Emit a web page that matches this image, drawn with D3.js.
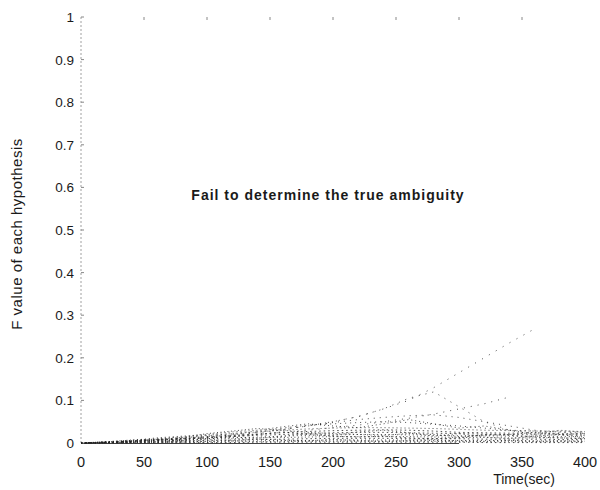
<!DOCTYPE html>
<html>
<head>
<meta charset="utf-8">
<script src="https://cdn.jsdelivr.net/npm/d3@7"></script>
<style>
  html, body { margin: 0; padding: 0; background: #fff; }
  svg { display: block; }
  text { font-family: "Liberation Sans", Arial, sans-serif; fill: #1a1a1a; }
</style>
</head>
<body>
<svg id="chart" width="600" height="490"></svg>
<script>
// Sample times (sec) shared by every hypothesis
const times = [0, 20, 40, 60, 80, 100, 120, 140, 160, 180, 200, 220, 240, 260, 280, 300, 320, 340, 360, 380, 400];

// F value of each ambiguity hypothesis at the sample times (null = hypothesis dropped)
const hypA = [0, 0.002, 0.004, 0.007, 0.011, 0.015, 0.02, 0.026, 0.033, 0.041, 0.05, 0.062, 0.08, 0.1, 0.13, 0.165, 0.2, 0.235, 0.268, null, null];
const hypB = [0, 0.002, 0.004, 0.006, 0.009, 0.013, 0.018, 0.024, 0.031, 0.04, 0.05, 0.062, 0.08, 0.105, 0.12, 0.085, 0.05, 0.03, 0.022, 0.02, 0.018];
const hypC = [0, 0.001, 0.003, 0.005, 0.008, 0.011, 0.015, 0.02, 0.025, 0.03, 0.036, 0.042, 0.05, 0.058, 0.068, 0.08, 0.092, 0.108, null, null, null];
const hypD = [0, 0.002, 0.004, 0.007, 0.01, 0.014, 0.019, 0.025, 0.032, 0.04, 0.048, 0.055, 0.06, 0.064, 0.066, 0.06, 0.05, 0.04, 0.03, 0.025, 0.022];
const hypE = [0, 0.002, 0.005, 0.008, 0.012, 0.017, 0.022, 0.028, 0.035, 0.042, 0.045, 0.048, 0.05, 0.048, 0.044, 0.04, 0.035, 0.03, 0.028, 0.026, 0.025];
const hypF = [0, 0.003, 0.006, 0.01, 0.014, 0.018, 0.022, 0.026, 0.03, 0.033, 0.035, 0.036, 0.036, 0.035, 0.034, 0.032, 0.03, 0.029, 0.028, 0.028, 0.027];
const hypG = [0, 0.002, 0.005, 0.008, 0.011, 0.015, 0.018, 0.021, 0.024, 0.027, 0.029, 0.03, 0.031, 0.03, 0.028, 0.025, 0.024, 0.023, 0.024, 0.022, 0.021];
const hypH = [0, 0.002, 0.004, 0.006, 0.009, 0.012, 0.015, 0.018, 0.02, 0.022, 0.024, 0.025, 0.025, 0.024, 0.023, 0.022, 0.021, 0.02, 0.019, 0.019, 0.018];
const hypI = [0, 0.001, 0.003, 0.005, 0.007, 0.01, 0.012, 0.014, 0.016, 0.018, 0.019, 0.02, 0.02, 0.019, 0.018, 0.017, 0.017, 0.016, 0.016, 0.015, 0.015];
const hypJ = [0, 0.001, 0.002, 0.004, 0.006, 0.008, 0.01, 0.012, 0.013, 0.014, 0.015, 0.015, 0.015, 0.015, 0.014, 0.013, 0.013, 0.012, 0.012, 0.012, 0.011];
const hypK = [0, 0.001, 0.002, 0.003, 0.004, 0.006, 0.007, 0.008, 0.009, 0.01, 0.011, 0.011, 0.011, 0.01, 0.01, 0.01, 0.009, 0.009, 0.009, 0.008, 0.008];
const hypL = [0, 0.001, 0.001, 0.002, 0.003, 0.004, 0.005, 0.005, 0.006, 0.006, 0.007, 0.007, 0.007, 0.007, 0.006, 0.006, 0.006, 0.006, 0.005, 0.005, 0.005];
const hypM = [0, 0, 0.001, 0.001, 0.002, 0.002, 0.003, 0.003, 0.003, 0.004, 0.004, 0.004, 0.004, 0.004, 0.004, 0.003, 0.003, 0.003, 0.003, 0.003, 0.003];
const hypN = [0, 0, 0, 0.001, 0.001, 0.001, 0.001, 0.002, 0.002, 0.002, 0.002, 0.002, 0.002, 0.002, 0.002, 0.002, 0.001, 0.001, 0.001, 0.001, 0.001];
const hypO = [0, 0.002, 0.006, 0.012, 0.016, 0.02, 0.026, 0.03, 0.038, 0.045, 0.04, 0.036, 0.045, 0.055, 0.045, 0.035, 0.04, 0.03, 0.02, 0.03, 0.025];
const hypP = [0, 0.003, 0.007, 0.009, 0.013, 0.022, 0.028, 0.034, 0.03, 0.025, 0.022, 0.02, 0.018, 0.022, 0.02, 0.015, 0.018, 0.02, 0.025, 0.02, 0.022];
const hypQ = [0, 0.001, 0.003, 0.006, 0.01, 0.012, 0.016, 0.02, 0.026, 0.02, 0.016, 0.014, 0.016, 0.012, 0.01, 0.012, 0.02, 0.018, 0.014, 0.012, 0.01];
const hypR = [0, 0.002, 0.004, 0.008, 0.006, 0.01, 0.014, 0.011, 0.016, 0.022, 0.018, 0.026, 0.03, 0.024, 0.016, 0.022, 0.014, 0.01, 0.016, 0.02, 0.012];
const hypS = [0, 0.001, 0.002, 0.003, 0.005, 0.004, 0.006, 0.009, 0.007, 0.005, 0.008, 0.006, 0.004, 0.006, 0.008, 0.005, 0.004, 0.006, 0.004, 0.005, 0.004];

const hypotheses = [hypA, hypB, hypC, hypD, hypE, hypF, hypG, hypH, hypI, hypJ, hypK, hypL, hypM, hypN, hypO, hypP, hypQ, hypR, hypS];

// Tick labels
const xTicks = [0, 50, 100, 150, 200, 250, 300, 350, 400];
const yTicks = [0, 0.1, 0.2, 0.3, 0.4, 0.5, 0.6, 0.7, 0.8, 0.9, 1];

const xTitle = "Time(sec)";
const yTitle = "F value of each hypothesis";
const note = "Fail to determine the true ambiguity";

const svg = d3.select("#chart");
const plotLeft = 81, plotRight = 585, plotTop = 17, plotBottom = 443;

const x = d3.scaleLinear().domain([0, 400]).range([plotLeft, plotRight]);
const y = d3.scaleLinear().domain([0, 1]).range([plotBottom, plotTop]);

// Frame: faint dotted left edge, dark baseline under the dense traces
svg.append("line")
  .attr("x1", plotLeft).attr("x2", plotLeft).attr("y1", plotTop).attr("y2", plotBottom)
  .attr("stroke", "#a0a0a0").attr("stroke-width", 1).attr("stroke-dasharray", "2,2");
svg.append("line")
  .attr("x1", plotLeft).attr("x2", x(300)).attr("y1", plotBottom + 0.5).attr("y2", plotBottom + 0.5)
  .attr("stroke", "#444").attr("stroke-width", 1);

// Inward tick marks on the left edge
svg.append("g").selectAll("line").data(yTicks).join("line")
  .attr("x1", plotLeft).attr("x2", plotLeft + 3)
  .attr("y1", d => y(d)).attr("y2", d => y(d))
  .attr("stroke", "#888").attr("stroke-width", 1);

// Inward tick marks on the top edge
svg.append("g").selectAll("line").data(xTicks.slice(1, -1)).join("line")
  .attr("x1", d => x(d)).attr("x2", d => x(d))
  .attr("y1", plotTop).attr("y2", plotTop + 3)
  .attr("stroke", "#888").attr("stroke-width", 1);

// Tick labels
svg.append("g").selectAll("text").data(yTicks).join("text")
  .attr("x", plotLeft - 7).attr("y", d => y(d) + 5)
  .attr("text-anchor", "end").attr("font-size", 13.5)
  .text(d => d3.format("")(d));

svg.append("g").selectAll("text").data(xTicks).join("text")
  .attr("x", d => x(d)).attr("y", 467)
  .attr("text-anchor", "middle").attr("font-size", 14.5)
  .text(d => d);

// Axis titles
svg.append("text")
  .attr("x", 524).attr("y", 484)
  .attr("text-anchor", "middle").attr("font-size", 14)
  .text(xTitle);

svg.append("text")
  .attr("transform", "translate(22, 234) rotate(-90)")
  .attr("text-anchor", "middle").attr("font-size", 15)
  .attr("letter-spacing", 0.5)
  .text(yTitle);

// Hypothesis traces, drawn as sparse dotted lines
const line = d3.line()
  .defined(d => d != null)
  .x((d, i) => x(times[i]))
  .y(d => y(d));

const dashes = ["1,7", "1,6", "1,6", "1,5", "1,4", "1,3", "1.5,3", "1,2.5"];

svg.append("g").selectAll("path").data(hypotheses).join("path")
  .attr("d", line)
  .attr("fill", "none")
  .attr("stroke", "#222")
  .attr("stroke-width", 1)
  .attr("stroke-opacity", 0.8)
  .attr("stroke-dasharray", (d, i) => dashes[Math.min(i, dashes.length - 1 - (i % 3))]);

// Annotation
svg.append("text")
  .attr("x", 328).attr("y", 200)
  .attr("text-anchor", "middle").attr("font-size", 14).attr("font-weight", "bold")
  .attr("letter-spacing", 1)
  .text(note);
</script>
</body>
</html>
